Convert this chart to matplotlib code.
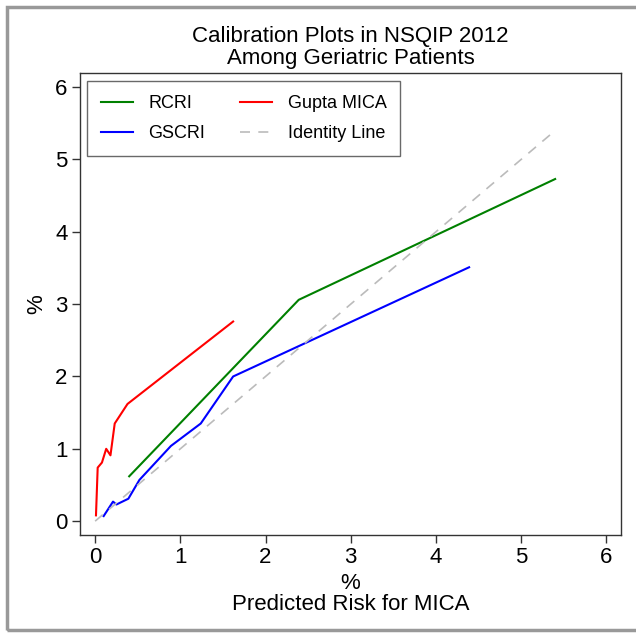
"""
calibration plot: predicted vs observed MICA risk, NSQIP 2012 geriatric patients
"""

import matplotlib
matplotlib.use("Agg")
import matplotlib.pyplot as plt
from matplotlib.patches import Rectangle

plt.rcParams['font.family'] = ['Liberation Sans', 'DejaVu Sans']

# ── data ────────────────────────────────────────────
rcri_x = [0.40, 2.39, 5.40]
rcri_y = [0.62, 3.06, 4.73]

gscri_x = [0.10, 0.21, 0.25, 0.39, 0.52, 0.89, 1.24, 1.62, 4.39]
gscri_y = [0.07, 0.27, 0.23, 0.31, 0.57, 1.04, 1.35, 2.00, 3.51]

gupta_x = [0.01, 0.03, 0.08, 0.13, 0.18, 0.23, 0.38, 1.62]
gupta_y = [0.08, 0.74, 0.81, 1.00, 0.91, 1.35, 1.62, 2.76]

ident = [0.0, 5.40]

ticks = [0, 1, 2, 3, 4, 5, 6]


def main():
    fig = plt.figure(figsize=(6.36, 6.33), dpi=100)
    ax = fig.add_axes([0.126, 0.155, 0.850, 0.729])

    ax.plot(rcri_x, rcri_y, color='#008000', lw=1.5, label='RCRI')
    ax.plot(gscri_x, gscri_y, color='#0000ff', lw=1.5, label='GSCRI')
    ax.plot(gupta_x, gupta_y, color='#ff0000', lw=1.5, label='Gupta MICA')
    ax.plot(ident, ident, color='#bbbbbb', lw=1.2, ls=(0, (6, 5)), label='Identity Line')

    ax.set_xlim(-0.176, 6.17)
    ax.set_ylim(-0.19, 6.19)
    ax.set_xticks(ticks)
    ax.set_yticks(ticks)
    ax.tick_params(labelsize=16, length=6, width=1, color='#333333', pad=3)
    for sp in ax.spines.values():
        sp.set_color('#333333')
        sp.set_linewidth(1)

    ax.set_xlabel("%\nPredicted Risk for MICA", fontsize=16, linespacing=1.0, labelpad=3)
    ax.set_ylabel("%", fontsize=16, labelpad=6)
    ax.set_title("Calibration Plots in NSQIP 2012\nAmong Geriatric Patients",
                 fontsize=16, linespacing=1.05, pad=7)

    leg = ax.legend(loc='upper left', ncol=2, fontsize=13, frameon=True,
                    fancybox=False, edgecolor='#444444', handlelength=1.8,
                    handletextpad=0.85, columnspacing=1.9, borderpad=0.75,
                    labelspacing=0.72, borderaxespad=0,
                    bbox_to_anchor=(7 / 541, 1 - 8 / 461))
    leg.get_frame().set_linewidth(1)

    # gray outer frame around the graph region
    fig.add_artist(Rectangle((7 / 636, 3 / 633), 1.0, 623 / 633,
                             transform=fig.transFigure, fill=False,
                             edgecolor='#999999', lw=2.5))

    fig.savefig("out.png", dpi=100)
    plt.close(fig)


if __name__ == "__main__":
    main()
